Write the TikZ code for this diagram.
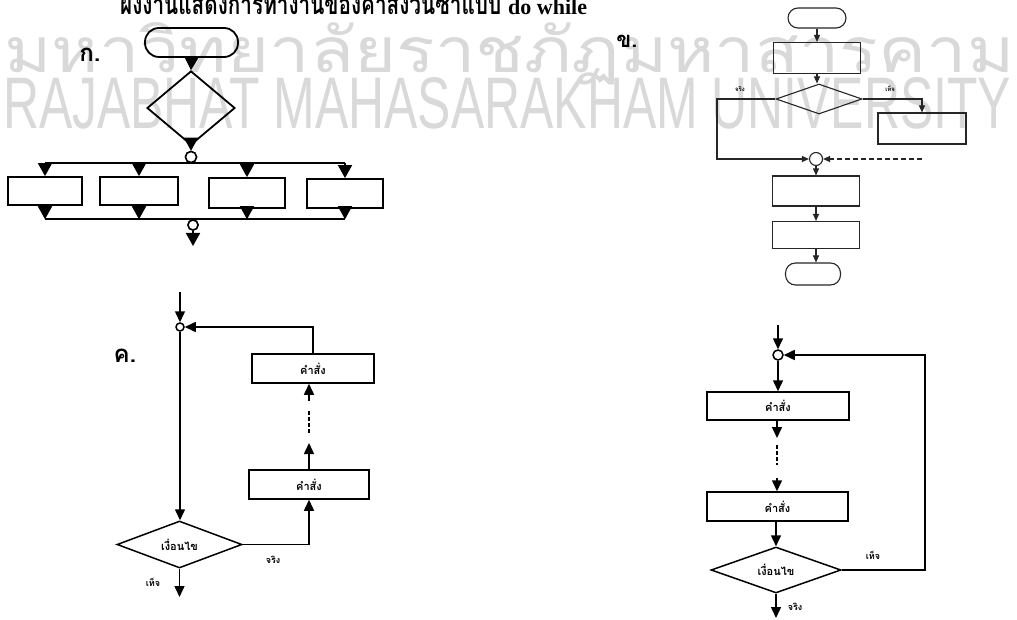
\documentclass[tikz,border=0pt]{standalone}
\usepackage{fontspec}
\usepackage{graphicx}
\usetikzlibrary{arrows.meta,shapes.geometric,calc}
\newfontfamily\thai[Script=Thai]{Loma}
\newfontfamily\wmsans{Liberation Sans}
\newfontfamily\tserif{Liberation Serif}
\tikzset{
  lineA/.style={line width=1.8pt},
  arrA/.style={lineA,-{Triangle[length=13pt,width=14pt]}},
  boxA/.style={draw,lineA,inner sep=0pt,rectangle},
  termA/.style={draw,lineA,rounded corners=14pt},
  decA/.style={draw,lineA,diamond,inner sep=0pt},
  jnA/.style={draw,line width=1.5pt,circle,inner sep=0pt,fill=white},
  lineB/.style={line width=1.1pt,black!85},
  arrB/.style={lineB,-{Triangle[length=7pt,width=6pt]}},
  boxB/.style={draw,lineB,inner sep=0pt,rectangle},
  termB/.style={draw,lineB,rounded corners=10pt},
  decB/.style={draw,lineB,diamond,inner sep=0pt},
  jnB/.style={draw,lineB,circle,inner sep=0pt,fill=white},
  lineC/.style={line width=1.5pt},
  arrC/.style={lineC,-{Triangle[length=11pt,width=10pt]}},
  boxC/.style={draw,lineC,inner sep=0pt,rectangle,font=\thai\bfseries\fontsize{11}{11}\selectfont},
  decC/.style={draw,lineC,diamond,inner sep=0pt,label={[font=\thai\bfseries\fontsize{11}{11}\selectfont]center:#1}},
  jnC/.style={draw,lineC,circle,inner sep=0pt,fill=white},
  lblC/.style={font=\thai\bfseries\fontsize{9}{9}\selectfont,inner sep=0pt},
  lblB/.style={font=\thai\bfseries\fontsize{6}{6}\selectfont,inner sep=0pt},
  big/.style={font=\thai\bfseries\fontsize{24}{24}\selectfont,inner sep=0pt,anchor=base},
  wm/.style={anchor=base west,inner sep=0pt,text=black!15}
}
\begin{document}
\begin{tikzpicture}[x=1pt,y=-1pt]
\useasboundingbox (0,0) rectangle (1017,620);
\fill[white] (0,0) rectangle (1017,620);
% watermark
\node[wm] (wm1) at (4,73) {\resizebox{1010pt}{50pt}{\thai มหาวิทยาลัยราชภัฏมหาสารคาม}};
\node[wm] (wm2) at (3,129) {\resizebox{1008pt}{51pt}{\wmsans RAJABHAT MAHASARAKHAM UNIVERSITY}};
% title (cut off at top)
\node[anchor=base west,inner sep=0pt] (title) at (120,15) {\scalebox{0.74}[1]{\thai\bfseries\fontsize{28}{28}\selectfont ผังงานแสดงการทำงานของคำสั่งวนซ้ำแบบ}\hspace{7pt}\tserif\bfseries\fontsize{22}{22}\selectfont do while};

% ---------- ก ----------
\node[big] (lka) at (90,62) {ก.};
\node[termA,minimum width=93pt,minimum height=29pt] (ka1) at (191.5,42.5) {};
\node[decA,minimum width=88pt,minimum height=74pt] (ka2) at (191,108) {};
\node[jnA,minimum size=11pt] (kj1) at (191,157) {};
\node[boxA,minimum width=74pt,minimum height=28pt] (kb1) at (45,191) {};
\node[boxA,minimum width=78pt,minimum height=28pt] (kb2) at (139,191) {};
\node[boxA,minimum width=76pt,minimum height=30pt] (kb3) at (247,193) {};
\node[boxA,minimum width=76pt,minimum height=29pt] (kb4) at (345,193.5) {};
\node[jnA,minimum size=10pt] (kj2) at (193,225) {};
\coordinate (kout) at (193,246);
\draw[arrA] (ka1.south) -- (ka2.north);
\draw[arrA] (ka2.south) -- (kj1.north);
\draw[lineA] (kb1.north |- kj1.south) -- (kb4.north |- kj1.south);
\foreach \b in {kb1,kb2,kb3,kb4} \draw[arrA] (\b.north |- kj1.south) -- (\b.north);
\foreach \b in {kb1,kb2,kb3,kb4} \draw[arrA] (\b.south) -- (\b.south |- kj2.north);
\draw[lineA] (kb1.south |- kj2.north) -- (kb4.south |- kj2.north);
\node[jnA,minimum size=10pt] at (kj2) {};
\node[jnA,minimum size=11pt] at (kj1) {};
\draw[arrA] (kj2.south) -- (kout);

% ---------- ข ----------
\node[big,font=\thai\bfseries\fontsize{22}{22}\selectfont] (lkh) at (627,48) {ข.};
\node[termB,minimum width=58pt,minimum height=20pt] (kh1) at (817,18) {};
\node[boxB,minimum width=87pt,minimum height=31pt] (kh2) at (817,58) {};
\node[decB,minimum width=86pt,minimum height=30pt] (kh3) at (819,99) {};
\node[boxB,minimum width=88pt,minimum height=31pt] (kh4) at (922,128.5) {};
\node[jnB,minimum size=13pt] (khj) at (816,159) {};
\node[boxB,minimum width=87pt,minimum height=30pt] (kh5) at (816,191) {};
\node[boxB,minimum width=87pt,minimum height=27pt] (kh6) at (816,235) {};
\node[termB,minimum width=55pt,minimum height=22pt] (kh7) at (813,274) {};
\coordinate (khL) at (717,99);
\coordinate (khR) at (922,159);
\draw[arrB] (kh1.south) -- (kh1.south |- kh2.north);
\draw[arrB] (kh2.south) -- (kh2.south |- kh3.north);
\draw[arrB] (kh3.west) -- (khL) |- (khj.west);
\draw[arrB] (kh3.east) -| (kh4.north);
\draw[arrB,dash pattern=on 5pt off 3pt] (khR) -- (khj.east);
\draw[arrB] (khj.south) -- (kh5.north);
\draw[arrB] (kh5.south) -- (kh6.north);
\draw[arrB] (kh6.south) -- (kh6.south |- kh7.north);
\node[lblB] (khl1) at (740,89) {จริง};
\node[lblB] (khl2) at (890,89) {เท็จ};

% ---------- ค ----------
\node[big] (lkc) at (125,362) {ค.};
\coordinate (kcin) at (180,292);
\node[jnC,minimum size=8pt] (kcj) at (180,327) {};
\node[boxC,minimum width=122pt,minimum height=29pt] (kc1) at (313,368.5) {คำสั่ง};
\node[boxC,minimum width=120pt,minimum height=29pt] (kc2) at (309,484.5) {คำสั่ง};
\node[decC=เงื่อนไข,minimum width=125pt,minimum height=47pt] (kcd) at (179.5,544.5) {};
\coordinate (kcout) at (179.5,597);
\coordinate (kcm1) at (309,443);
\coordinate (kcm2) at (309,433);
\coordinate (kcm3) at (309,411);
\coordinate (kcm4) at (309,401);
\draw[arrC] (kcin) -- (kcj.north);
\draw[arrC] (kcj.south) -- (kcj.south |- kcd.north);
\draw[arrC] (kc1.north) |- (kcj.east);
\draw[arrC] (kcd.east) -| (kc2.south);
\draw[arrC] (kc2.north) -- (kcm1);
\draw[lineC,dash pattern=on 4pt off 2pt] (kcm2) -- (kcm3);
\draw[arrC] (kcm4) -- (kcm4 |- kc1.south);
\draw[arrC] (kcd.south) -- (kcout);
\node[lblC] (kcl1) at (273,560) {จริง};
\node[lblC] (kcl2) at (153,582) {เท็จ};

% ---------- bottom right ----------
\coordinate (kdin) at (778,325);
\node[jnC,minimum size=10pt] (kdj) at (778,355) {};
\node[boxC,minimum width=142pt,minimum height=28pt] (kd1) at (778,406) {คำสั่ง};
\node[boxC,minimum width=141pt,minimum height=29pt] (kd2) at (777.5,506.5) {คำสั่ง};
\node[decC=เงื่อนไข,minimum width=130pt,minimum height=46pt] (kdd) at (776,570) {};
\coordinate (kdR) at (925,570);
\coordinate (kdout) at (776,618);
\coordinate (kdm1) at (777,438);
\coordinate (kdm2) at (777,445);
\coordinate (kdm3) at (777,465);
\coordinate (kdm4) at (777,478);
\draw[arrC] (kdin) -- (kdj.north);
\draw[arrC] (kdj.south) -- (kd1.north);
\draw[arrC] (kd1.south -| kdm1) -- (kdm1);
\draw[lineC,dash pattern=on 4pt off 2pt] (kdm2) -- (kdm3);
\draw[arrC] (kdm4) -- (kdm4 |- kd2.north);
\draw[arrC] (kd2.south -| kdd.north) -- (kdd.north);
\draw[arrC] (kdd.east) -- (kdR) |- (kdj.east);
\draw[arrC] (kdd.south) -- (kdout);
\node[lblC] (kdl1) at (873,555) {เท็จ};
\node[lblC] (kdl2) at (795,607) {จริง};
\end{tikzpicture}
\end{document}
